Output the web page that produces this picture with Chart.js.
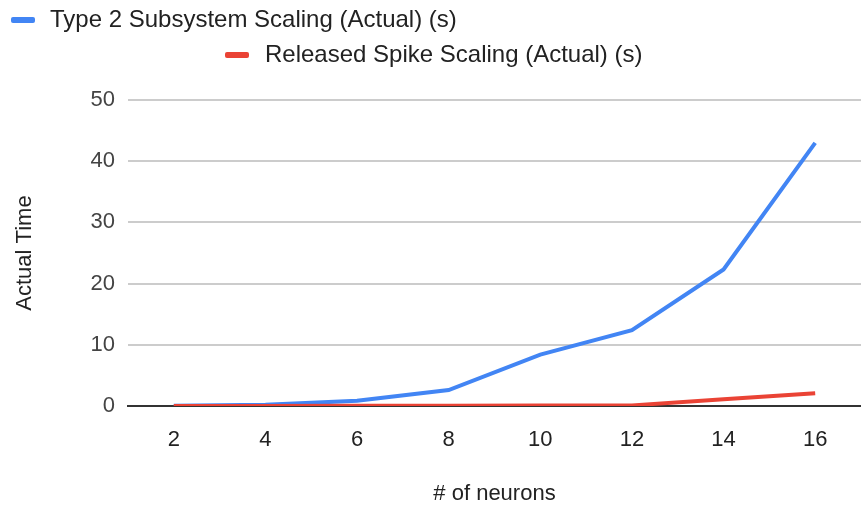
<!DOCTYPE html>
<html>
<head>
<meta charset="utf-8">
<script src="https://cdn.jsdelivr.net/npm/chart.js@4.4.1/dist/chart.umd.min.js"></script>
<style>
html,body{margin:0;padding:0;background:#fff;}
#wrap{width:861px;height:512px;position:relative;}
</style>
</head>
<body>
<div id="wrap"><canvas id="c" width="861" height="512"></canvas></div>
<script>
const categories = ["2", "4", "6", "8", "10", "12", "14", "16"];
const type2Subsystem = [0.05, 0.2, 0.85, 2.6, 8.4, 12.4, 22.3, 43.0];
const releasedSpike = [0.02, 0.02, 0.03, 0.05, 0.08, 0.1, 1.1, 2.1];
const seriesNames = ["Type 2 Subsystem Scaling (Actual) (s)", "Released Spike Scaling (Actual) (s)"];
const yTicks = [0, 10, 20, 30, 40, 50];
const xTitle = "# of neurons";
const yTitle = "Actual Time";

const FONT = "'Liberation Sans', Arial, sans-serif";
const BLUE = "#4285F4", RED = "#EA4335";

const legendPos = [
  {box: [11, 17, 24, 6], tx: 50, ty: 20},
  {box: [225, 52, 24, 6], tx: 265, ty: 55}
];

const customLegend = {
  id: 'customLegend',
  afterDraw(chart) {
    const ctx = chart.ctx;
    ctx.save();
    ctx.font = "24px " + FONT;
    ctx.textBaseline = "middle";
    ctx.textAlign = "left";
    chart.data.datasets.forEach((ds, i) => {
      const p = legendPos[i];
      ctx.fillStyle = ds.borderColor;
      ctx.beginPath();
      if (ctx.roundRect) ctx.roundRect(p.box[0], p.box[1], p.box[2], p.box[3], 2);
      else ctx.rect(p.box[0], p.box[1], p.box[2], p.box[3]);
      ctx.fill();
      ctx.fillStyle = "#222";
      ctx.fillText(ds.label, p.tx, p.ty);
    });
    ctx.restore();
  }
};

new Chart(document.getElementById('c'), {
  type: 'line',
  data: {
    labels: categories,
    datasets: [
      {label: seriesNames[0], data: type2Subsystem, borderColor: BLUE, backgroundColor: BLUE, borderWidth: 4, pointRadius: 0, tension: 0, order: 1},
      {label: seriesNames[1], data: releasedSpike, borderColor: RED, backgroundColor: RED, borderWidth: 4, pointRadius: 0, tension: 0, order: 0}
    ]
  },
  options: {
    responsive: false,
    animation: false,
    layout: {padding: {top: 100, right: 0, left: 0, bottom: 0}},
    plugins: {legend: {display: false}, tooltip: {enabled: false}},
    scales: {
      x: {
        offset: true,
        grid: {display: false, drawTicks: false},
        border: {display: true, color: '#333', width: 2},
        ticks: {font: {family: FONT, size: 22}, color: '#222', padding: 21, maxRotation: 0},
        title: {display: true, text: xTitle, font: {family: FONT, size: 22}, color: '#222', padding: {top: 0, bottom: 5}},
        afterFit(s) { s.height = 106; }
      },
      y: {
        min: 0, max: 50,
        afterBuildTicks(s) { s.ticks = yTicks.map(v => ({value: v})); },
        grid: {drawTicks: false, color: ctx => ctx.tick && ctx.tick.value === 0 ? '#333' : '#cccccc', lineWidth: 2},
        border: {display: false},
        ticks: {font: {family: FONT, size: 22}, color: '#444', padding: 13},
        title: {display: true, text: yTitle, font: {family: FONT, size: 22}, color: '#222', padding: {top: 12, bottom: 0}},
        afterFit(s) { s.width = 128; }
      }
    }
  },
  plugins: [customLegend]
});
</script>
</body>
</html>
